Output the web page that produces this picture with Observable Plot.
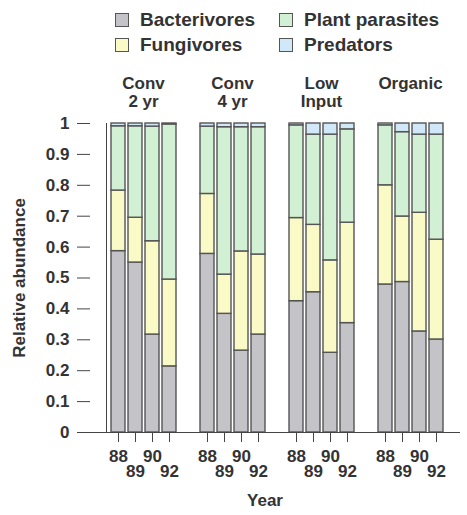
<!DOCTYPE html>
<html>
<head>
<meta charset="utf-8">
<script src="https://cdn.jsdelivr.net/npm/d3@7"></script>
<script src="https://cdn.jsdelivr.net/npm/@observablehq/plot@0.6"></script>
<style>
  body { margin: 0; background: #fff; font-family: "Liberation Sans", Arial, sans-serif; color: #333; }
  #wrap { width: 467px; }
  #legend { position: relative; width: 467px; height: 55px; }
  .item { position: absolute; display: flex; align-items: center; font-size: 19px; font-weight: bold; line-height: 1; }
  .sw { width: 12px; height: 12px; border: 1.5px solid #555; margin-right: 11px; }
</style>
</head>
<body>
<div id="wrap">
  <div id="legend"></div>
  <div id="chart"></div>
</div>
<script>
// ---- data ----
const groups = ["Conv 2 yr", "Conv 4 yr", "Low Input", "Organic"];
const groupLabels = ["Conv\n2 yr", "Conv\n4 yr", "Low\nInput", "Organic"];
const years = ["88", "89", "90", "92"];
const tickRow1 = ["88", "90"];
const tickRow2 = ["89", "92"];
const feeding = ["Bacterivores", "Fungivores", "Plant parasites", "Predators"];
const colors = ["#c4c4c8", "#fafac6", "#d2f0d4", "#d0e8f8"];
const yTicks = [0, 0.1, 0.2, 0.3, 0.4, 0.5, 0.6, 0.7, 0.8, 0.9, 1];

// values per group (rows) and year (columns)
const bacterivores = [
  [0.587, 0.550, 0.317, 0.214],
  [0.578, 0.384, 0.265, 0.317],
  [0.425, 0.454, 0.258, 0.354],
  [0.479, 0.487, 0.327, 0.301]
];
const fungivores = [
  [0.196, 0.145, 0.302, 0.281],
  [0.194, 0.127, 0.321, 0.259],
  [0.269, 0.218, 0.299, 0.325],
  [0.321, 0.212, 0.384, 0.323]
];
const plantParasites = [
  [0.208, 0.296, 0.371, 0.502],
  [0.218, 0.477, 0.402, 0.412],
  [0.300, 0.292, 0.407, 0.302],
  [0.194, 0.273, 0.253, 0.340]
];
const predators = [
  [0.009, 0.009, 0.010, 0.003],
  [0.010, 0.012, 0.012, 0.012],
  [0.006, 0.036, 0.036, 0.019],
  [0.006, 0.028, 0.036, 0.036]
];

const series = [bacterivores, fungivores, plantParasites, predators];
const table = [];
feeding.forEach((f, k) => {
  groups.forEach((g, i) => {
    years.forEach((y, j) => {
      table.push({feeding: f, group: g, year: y, value: series[k][i][j]});
    });
  });
});

// ---- legend ----
const legend = document.getElementById("legend");
const legendPos = [
  {left: 115, top: 10}, {left: 115, top: 35},
  {left: 279, top: 10}, {left: 279, top: 35}
];
feeding.forEach((f, k) => {
  const it = document.createElement("div");
  it.className = "item";
  it.style.left = legendPos[k].left + "px";
  it.style.top = legendPos[k].top + "px";
  const sw = document.createElement("div");
  sw.className = "sw";
  sw.style.background = colors[k];
  it.appendChild(sw);
  const t = document.createElement("span");
  t.textContent = f;
  it.appendChild(t);
  legend.appendChild(it);
});

const txt = {fill: "#333", fontWeight: "bold"};

const chart = Plot.plot({
  width: 467,
  height: 460,
  marginLeft: 90,
  marginRight: 4,
  marginTop: 68,
  marginBottom: 83,
  style: {fontFamily: "'Liberation Sans', Arial, sans-serif", color: "#333", background: "#fff"},
  fx: {domain: groups, paddingInner: 0.17, paddingOuter: 0.18},
  x: {domain: years, padding: 0.2},
  y: {domain: [0, 1]},
  color: {domain: feeding, range: colors},
  marks: [
    Plot.barY(table, {
      fx: "group", x: "year", y: "value", fill: "feeding",
      stroke: "#555", strokeWidth: 1.4
    }),
    Plot.ruleY([0], {stroke: "#444", insetLeft: -16, insetRight: -13}),
    Plot.axisFx({
      anchor: "top", tickSize: 0, tickPadding: 48, lineAnchor: "top", lineHeight: 1.08,
      tickFormat: d => groupLabels[groups.indexOf(d)],
      fontSize: 17, ...txt, label: null
    }),
    Plot.axisX({
      ticks: tickRow1, anchor: "bottom", tickSize: 10, tickPadding: 7,
      fontSize: 17, ...txt, stroke: "#444", label: null
    }),
    Plot.axisX({
      ticks: tickRow2, anchor: "bottom", tickSize: 10, tickPadding: 22,
      fontSize: 17, ...txt, stroke: "#444", label: null
    }),
    Plot.axisY({
      anchor: "left", ticks: yTicks, dx: -16,
      tickFormat: d3.format("~g"), tickSize: 13, tickPadding: 8,
      fontSize: 17, ...txt, stroke: "#444",
      label: "Relative abundance", labelAnchor: "center", labelArrow: "none", labelOffset: 94
    }),
    Plot.frame({facet: "super", anchor: "left", stroke: "#444"}),
    Plot.text(["Year"], {
      facet: "super", text: d => d, frameAnchor: "bottom", dy: 73, dx: -12,
      fontSize: 17, ...txt
    })
  ]
});
document.getElementById("chart").appendChild(chart);
</script>
</body>
</html>
